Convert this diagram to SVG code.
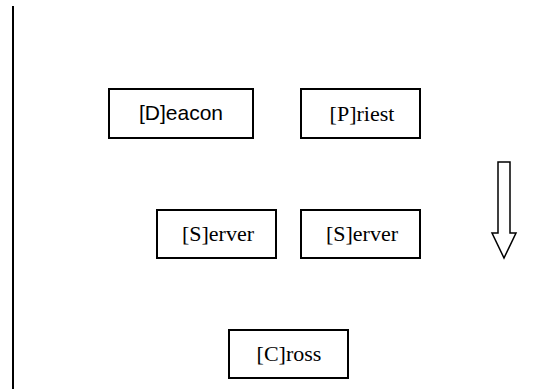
<svg xmlns="http://www.w3.org/2000/svg" width="558" height="389" viewBox="0 0 558 389">
<style>
.box{fill:#fff;stroke:#000;stroke-width:2}
.sans{font-family:"Liberation Sans",Arial,sans-serif;font-size:21px;fill:#000;text-anchor:middle}
.serif{font-family:"Liberation Serif","Times New Roman",serif;font-size:22px;fill:#000;text-anchor:middle}
</style>
<rect width="558" height="389" fill="#fff"/>
<g id="connectors">
<line x1="13" y1="6" x2="13" y2="389" stroke="#000" stroke-width="2"/>
<path d="M498 162 H510 V233 H516 L504 258 L492 233 H498 Z" fill="#fff" stroke="#000" stroke-width="1.5"/>
</g>
<g id="deacon"><rect class="box" x="109" y="89" width="144" height="49"/><text class="sans" x="181" y="120">[D]eacon</text></g>
<g id="priest"><rect class="box" x="301" y="89" width="119" height="49"/><text class="serif" x="362" y="121">[P]riest</text></g>
<g id="server1"><rect class="box" x="157" y="210" width="119" height="48"/><text class="serif" x="218" y="241">[S]erver</text></g>
<g id="server2"><rect class="box" x="301" y="210" width="119" height="48"/><text class="serif" x="362" y="241">[S]erver</text></g>
<g id="cross"><rect class="box" x="229" y="330" width="119" height="48"/><text class="serif" x="289" y="361">[C]ross</text></g>
</svg>
